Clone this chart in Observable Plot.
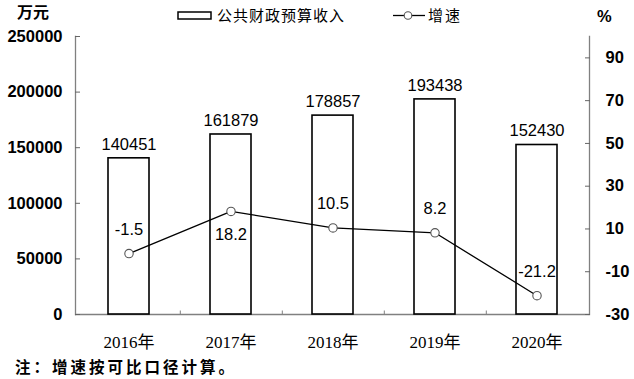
<!DOCTYPE html>
<html><head><meta charset="utf-8">
<script src="https://cdn.jsdelivr.net/npm/d3@7"></script>
<script src="https://cdn.jsdelivr.net/npm/@observablehq/plot@0.6"></script>
<style>
body{margin:0;background:#fff;}
#wrap{position:relative;width:634px;height:379px;font-family:"Liberation Sans","Noto Sans CJK SC",sans-serif;}
.abs{position:absolute;white-space:nowrap;line-height:1;}
.cjk{font-family:"Noto Sans CJK SC",sans-serif;}
</style></head>
<body><div id="wrap"></div>
<script>
const years = ["2016年","2017年","2018年","2019年","2020年"];
const revenue = [140451, 161879, 178857, 193438, 152430];
const growth = [-1.5, 18.2, 10.5, 8.2, -21.2];
const leftTicks = [0, 50000, 100000, 150000, 200000, 250000];
const rightTicks = [-30, -10, 10, 30, 50, 70, 90];
const rateMin = -30, rateMax = 100, yMax = 250000;

const toY = r => (r - rateMin) / (rateMax - rateMin) * yMax;
const fromY = y => Math.round(y / yMax * (rateMax - rateMin) + rateMin);
const data = years.map((year, i) => ({year, revenue: revenue[i], rate: growth[i], ry: toY(growth[i])}));

const chart = Plot.plot({
  width: 634, height: 379,
  marginLeft: 75, marginRight: 45, marginTop: 36, marginBottom: 65,
  style: {fontFamily: "Liberation Sans, sans-serif", color: "black", background: "white"},
  x: {domain: years, paddingInner: 0.6, paddingOuter: 0.3, axis: null, label: null},
  y: {domain: [0, yMax], axis: null, label: null},
  marks: [
    Plot.frame({anchor: "left", stroke: "#808080", strokeWidth: 1.3}),
    Plot.frame({anchor: "right", stroke: "#808080", strokeWidth: 1.3}),
    Plot.ruleY([0], {stroke: "#808080", strokeWidth: 1.3}),
    Plot.ruleX(years.slice(0, -1), {x: d => d, y1: 0, y2: 0, dx: 51.3, insetTop: -3.5, stroke: "#808080"}),
    Plot.axisY({anchor: "left", ticks: leftTicks, tickSize: 0, tickPadding: 13, tickFormat: d => String(d), fontSize: 16.5, fontWeight: "bold", stroke: "#808080", label: null}),
    Plot.axisY({anchor: "left", ticks: leftTicks, tickSize: 5, dx: 5, tickFormat: () => "", stroke: "#666", label: null}),
    Plot.axisY({anchor: "right", ticks: rightTicks.map(toY), tickSize: 0, tickPadding: 16, tickFormat: d => String(fromY(d)), fontSize: 16.5, fontWeight: "bold", stroke: "#808080", label: null}),
    Plot.axisY({anchor: "right", ticks: rightTicks.map(toY), tickSize: 5, dx: -5, tickFormat: () => "", stroke: "#666", label: null}),
    Plot.axisX({anchor: "bottom", tickSize: 0, tickPadding: 21, fontSize: 17, fontFamily: "Liberation Serif, Noto Sans CJK SC, serif", label: null}),
    Plot.barY(data, {x: "year", y: "revenue", fill: "white", stroke: "black", strokeWidth: 1.6}),
    Plot.text(data, {x: "year", y: "revenue", text: d => String(d.revenue), dy: -14, fontSize: 16.5}),
    Plot.line(data, {x: "year", y: "ry", stroke: "black", strokeWidth: 1.3}),
    Plot.dot(data, {x: "year", y: "ry", r: 4.2, fill: "white", stroke: "#555", strokeWidth: 1.1}),
    Plot.text(data.filter(d => d.rate !== 18.2), {x: "year", y: "ry", text: d => String(d.rate), dy: -24, fontSize: 16.5}),
    Plot.text(data.filter(d => d.rate === 18.2), {x: "year", y: "ry", text: d => String(d.rate), dy: 23, fontSize: 16.5})
  ]
});
const wrap = document.getElementById("wrap");
wrap.appendChild(chart);

const add = (html) => wrap.insertAdjacentHTML("beforeend", html);
add(`<div class="abs cjk" style="left:17px;top:3px;font-size:16px;font-weight:bold;">万元</div>`);
add(`<div class="abs" style="left:597px;top:8px;font-size:16.5px;font-weight:bold;">%</div>`);
add(`<svg class="abs" style="left:176px;top:10px" width="40" height="12"><rect x="2" y="2" width="33" height="7" fill="white" stroke="black" stroke-width="1.5"/></svg>`);
add(`<div class="abs cjk" style="left:217px;top:7px;font-size:15px;letter-spacing:1px;">公共财政预算收入</div>`);
add(`<svg class="abs" style="left:392px;top:9px" width="34" height="14"><line x1="1" y1="6.5" x2="33" y2="6.5" stroke="black" stroke-width="1.3"/><circle cx="16" cy="6.5" r="3.8" fill="white" stroke="#555" stroke-width="1.1"/></svg>`);
add(`<div class="abs cjk" style="left:428px;top:7px;font-size:15px;letter-spacing:2px;">增速</div>`);
add(`<div class="abs cjk" style="left:15px;top:359px;font-size:15.5px;font-weight:bold;letter-spacing:3px;">注：增速按可比口径计算。</div>`);
</script></body></html>
